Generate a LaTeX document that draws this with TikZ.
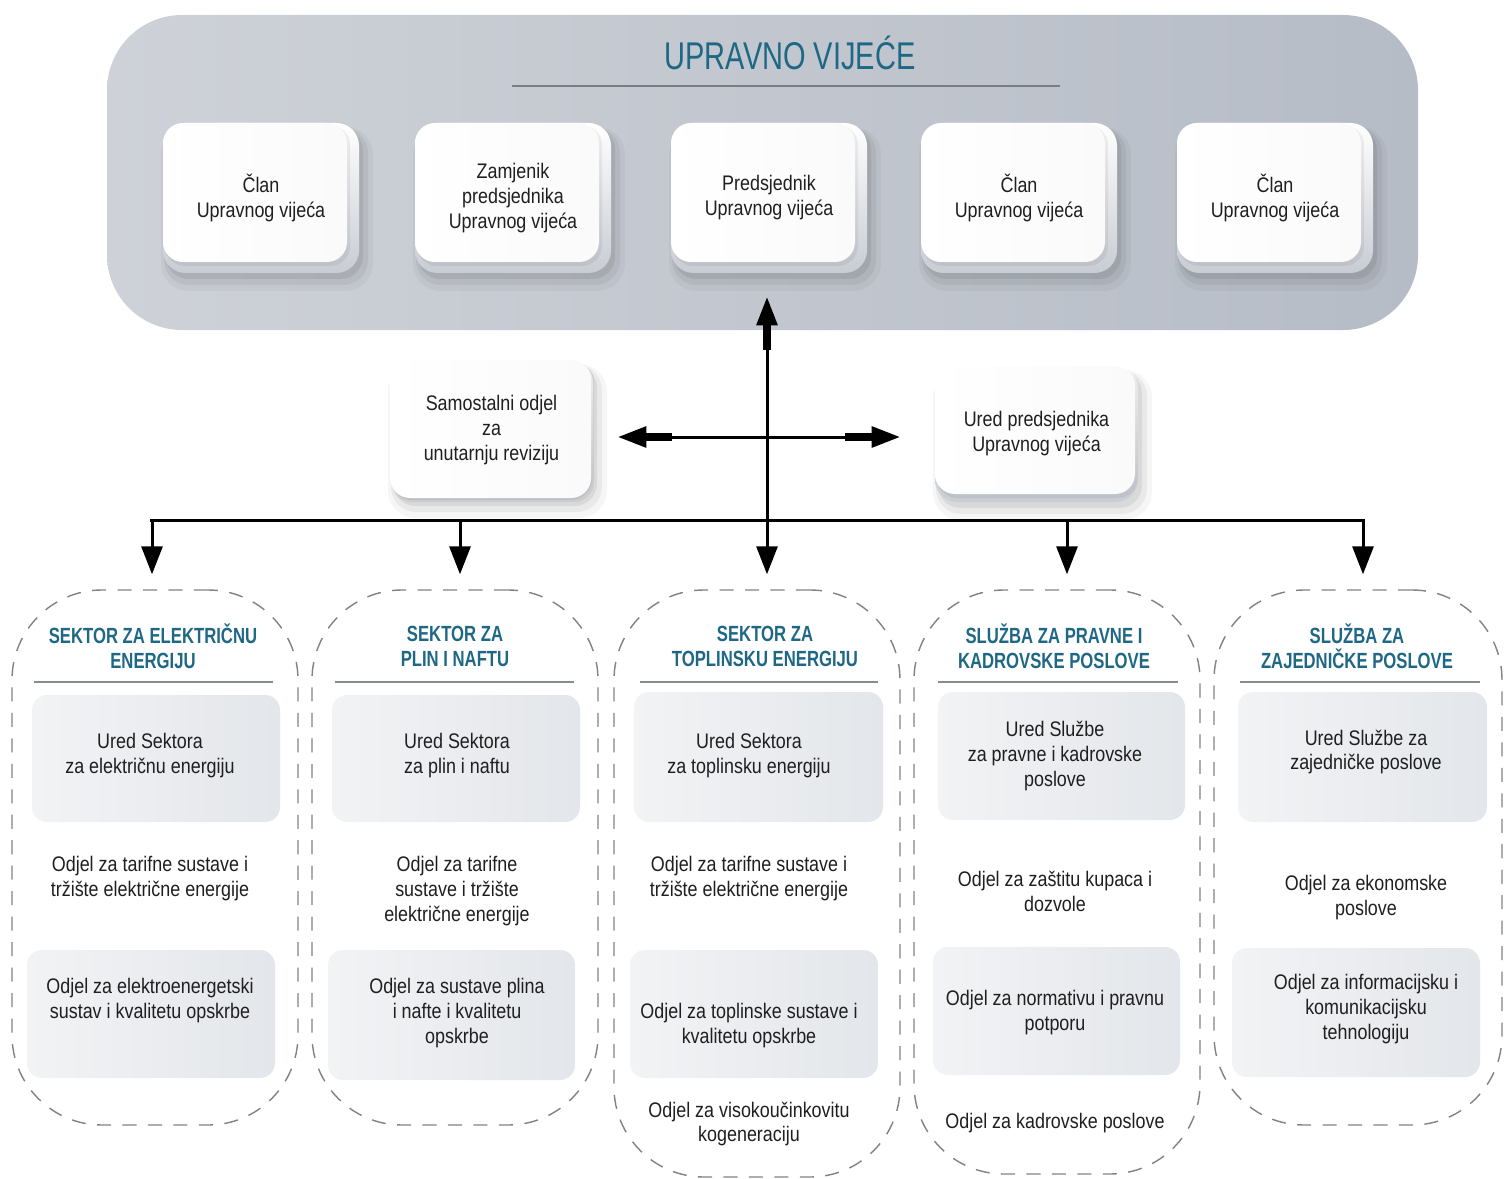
\documentclass[tikz,border=0pt]{standalone}
\usepackage{fontspec}
\setmainfont[FakeStretch=0.85]{Liberation Sans}
\newfontfamily\headfont[FakeStretch=0.76]{Liberation Sans}
\newfontfamily\titlefont[FakeStretch=0.75]{Liberation Sans}
\usetikzlibrary{arrows.meta,calc}
\definecolor{tealc}{RGB}{30,104,133}
\definecolor{panelL}{RGB}{206,210,216}
\definecolor{panelM}{RGB}{229,232,236}
\definecolor{panelR}{RGB}{182,188,198}
\definecolor{sepc}{RGB}{135,140,147}
\definecolor{dashc}{RGB}{130,130,130}
\definecolor{gA}{RGB}{242,243,245}
\definecolor{gB}{RGB}{227,230,234}
\definecolor{keyshade}{RGB}{200,204,211}
% name, L, T, W, H, text, bevel x, bevel y
\newcommand{\keybox}[8]{%
  \fill[black,opacity=0.035,rounded corners=0.55cm] (#2-2,#3+4) rectangle (#2+#4+14,#3+#5+18);
  \fill[black,opacity=0.05,rounded corners=0.5cm] (#2+1,#3+5) rectangle (#2+#4+9,#3+#5+12);
  \fill[black,opacity=0.07,rounded corners=0.45cm] (#2+3,#3+5) rectangle (#2+#4+4,#3+#5+6);
  \shade[rounded corners=0.45cm, top color=white, bottom color=keyshade] (#2,#3) rectangle (#2+#4,#3+#5);
  \fill[black,opacity=0.06,rounded corners=0.4cm] (#2+2,#3+2) rectangle (#2+#4-#7+3,#3+#5-#8+4);
  \shade[rounded corners=0.4cm, left color=white, right color=white!96!gray] (#2,#3) rectangle (#2+#4-#7,#3+#5-#8);
  \node[txt, minimum width=#4*0.02cm, minimum height=#5*0.02cm] (#1) at (#2+#4/2,#3+#5/2) {#6};
}
\tikzset{
  txt/.style={font=\fontsize{12}{14.2}\selectfont, align=center, inner sep=0pt, text=black!88},
  headtxt/.style={font=\headfont\bfseries\fontsize{12.5}{14.2}\selectfont, text=tealc, align=center, inner sep=0pt},
  colbox/.style={draw=dashc, line width=0.8pt, dash pattern=on 8pt off 6.5pt, rounded corners=1.8cm, inner sep=0pt},
  gbox/.style={rounded corners=0.3cm, left color=gA, right color=gB},
  sepline/.style={draw=sepc, line width=0.04cm},
  arr/.style={line width=0.06cm, -{Triangle[length=0.56cm,width=0.42cm]}},
  fat/.style={line width=0.16cm}
}
\begin{document}
\begin{tikzpicture}[x=0.02cm,y=-0.02cm]
\useasboundingbox (0,0) rectangle (1508,1179);
% top panel
\shade[rounded corners=1.5cm, left color=panelL, middle color=panelM, right color=panelR] (107,15) rectangle (1418,330);
\node[font=\titlefont\fontsize{22}{26}\selectfont, text=tealc, inner sep=0pt] (title) at (790,53) {UPRAVNO VIJEĆE};
\draw[sepline, draw=sepc!90!black] (512,86) -- (1060,86);
\keybox{m1}{163}{123}{196}{150}{Član\\Upravnog vijeća}{12}{11}
\keybox{m2}{415}{123}{196}{150}{Zamjenik\\predsjednika\\Upravnog vijeća}{12}{11}
\keybox{m3}{671}{123}{196}{150}{Predsjednik\\Upravnog vijeća}{12}{11}
\keybox{m4}{921}{123}{196}{150}{Član\\Upravnog vijeća}{12}{11}
\keybox{m5}{1177}{123}{196}{150}{Član\\Upravnog vijeća}{12}{11}
% side boxes
\keybox{sam}{390}{360}{203}{140}{Samostalni odjel\\za\\unutarnju reviziju}{2}{2}
\keybox{ured}{935}{366}{203}{136}{Ured predsjednika\\Upravnog vijeća}{3}{8}
% columns
\node[colbox, minimum width=286*0.02cm, minimum height=535*0.02cm] (c1) at (155,857.5) {};
\node[colbox, minimum width=286*0.02cm, minimum height=535*0.02cm] (c2) at (455,857.5) {};
\node[colbox, minimum width=286*0.02cm, minimum height=587*0.02cm] (c3) at (757,883.5) {};
\node[colbox, minimum width=286*0.02cm, minimum height=584*0.02cm] (c4) at (1057,882) {};
\node[colbox, minimum width=288*0.02cm, minimum height=535*0.02cm] (c5) at (1358,857.5) {};
% headings
\node[headtxt] (h1) at (153,646.5) {SEKTOR ZA ELEKTRIČNU\\ENERGIJU};
\node[headtxt] (h2) at (455,646.5) {SEKTOR ZA\\PLIN I NAFTU};
\node[headtxt] (h3) at (765,646.5) {SEKTOR ZA\\TOPLINSKU ENERGIJU};
\node[headtxt] (h4) at (1054,646.5) {SLUŽBA ZA PRAVNE I\\KADROVSKE POSLOVE};
\node[headtxt] (h5) at (1357,646.5) {SLUŽBA ZA\\ZAJEDNIČKE POSLOVE};
\draw[sepline] (34,682) -- (273,682);
\draw[sepline] (335,682) -- (574,682);
\draw[sepline] (640,682) -- (878,682);
\draw[sepline] (938,682) -- (1178,682);
\draw[sepline] (1240,682) -- (1480,682);
% gray boxes
\shade[gbox] (32,695) rectangle (280,822);
\shade[gbox] (27,950) rectangle (275,1078);
\shade[gbox] (332,695) rectangle (580,822);
\shade[gbox] (328,950) rectangle (575,1080);
\shade[gbox] (634,692) rectangle (883,822);
\shade[gbox] (630,950) rectangle (878,1078);
\shade[gbox] (938,692) rectangle (1185,820);
\shade[gbox] (933,947) rectangle (1180,1075);
\shade[gbox] (1238,692) rectangle (1487,822);
\shade[gbox] (1232,948) rectangle (1480,1077);
% column 1
\node[txt] (t11) at (150,756) {Ured Sektora\\za električnu energiju};
\node[txt] (t12) at (150,879) {Odjel za tarifne sustave i\\tržište električne energije};
\node[txt] (t13) at (150,1001) {Odjel za elektroenergetski\\sustav i kvalitetu opskrbe};
% column 2
\node[txt] (t21) at (457,756) {Ured Sektora\\za plin i naftu};
\node[txt] (t22) at (457,891) {Odjel za tarifne\\sustave i tržište\\električne energije};
\node[txt] (t23) at (457,1013) {Odjel za sustave plina\\i nafte i kvalitetu\\opskrbe};
% column 3
\node[txt] (t31) at (749,756) {Ured Sektora\\za toplinsku energiju};
\node[txt] (t32) at (749,879) {Odjel za tarifne sustave i\\tržište električne energije};
\node[txt] (t33) at (749,1026) {Odjel za toplinske sustave i\\kvalitetu opskrbe};
\node[txt] (t34) at (749,1124) {Odjel za visokoučinkovitu\\kogeneraciju};
% column 4
\node[txt] (t41) at (1055,756) {Ured Službe\\za pravne i kadrovske\\poslove};
\node[txt] (t42) at (1055,891) {Odjel za zaštitu kupaca i\\dozvole};
\node[txt] (t43) at (1055,1013) {Odjel za normativu i pravnu\\potporu};
\node[txt] (t44) at (1055,1123) {Odjel za kadrovske poslove};
% column 5
\node[txt] (t51) at (1366,752) {Ured Službe za\\zajedničke poslove};
\node[txt] (t52) at (1366,898) {Odjel za ekonomske\\poslove};
\node[txt] (t53) at (1366,1009) {Odjel za informacijsku i\\komunikacijsku\\tehnologiju};
% connectors
\coordinate (b1) at (152,520);
\coordinate (b2) at (460,520);
\coordinate (b3) at (767,520);
\coordinate (b4) at (1067,520);
\coordinate (b5) at (1363,520);
\coordinate (cross) at (767,437);
\draw[line width=0.06cm] ($(b1)+(-2,0)$) -- ($(b5)+(2,0)$);
\foreach \b/\c in {b1/c1,b2/c2,b3/c3,b4/c4,b5/c5}
  \draw[arr, shorten >=0.3cm] (\b) -- (\b |- \c.north);
\draw[arr, shorten >=0.48cm] (b3) -- (b3 |- m3.south);
\draw[fat] ($(b3 |- m3.south)+(0,52)$) -- ($(b3 |- m3.south)+(0,77)$);
\draw[arr, shorten >=0.5cm] (cross) -- (cross -| sam.east);
\draw[fat] ($(cross -| sam.east)+(52,0)$) -- ($(cross -| sam.east)+(79,0)$);
\draw[arr, shorten >=0.7cm] (cross) -- (cross -| ured.west);
\draw[fat] ($(cross -| ured.west)+(-63,0)$) -- ($(cross -| ured.west)+(-90,0)$);
\end{tikzpicture}
\end{document}
